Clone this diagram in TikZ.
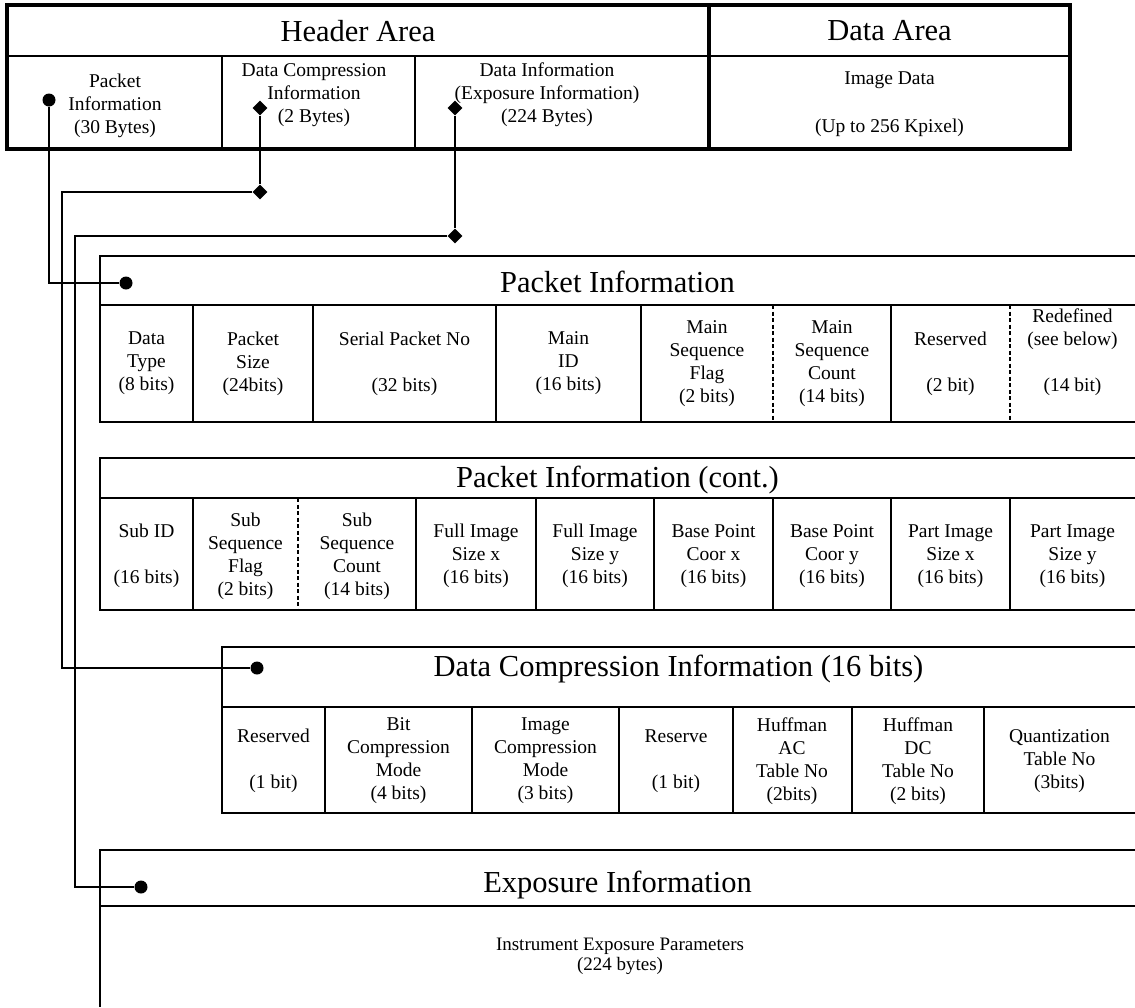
\documentclass[tikz,border=0pt]{standalone}
\usepackage{fontspec}
\setmainfont{Liberation Serif}
\usetikzlibrary{shapes.geometric}
\begin{document}
\begin{tikzpicture}[x=1pt,y=-1pt,
  thickrule/.style={line width=3.5pt},
  rule/.style={line width=2pt},
  dashrule/.style={line width=1.8pt, dash pattern=on 4pt off 2.5pt},
  wire/.style={line width=1.5pt},
  title/.style={font=\fontsize{30.5}{34}\selectfont, inner sep=0pt},
  cell/.style={font=\fontsize{19.5}{23}\selectfont, align=center, inner sep=0pt},
  body/.style={font=\fontsize{19}{20}\selectfont, align=center, inner sep=0pt},
  bigdot/.style={circle, fill=black, inner sep=0pt, minimum size=13pt},
  dia/.style={diamond, fill=black, inner sep=0pt, minimum size=15pt},
]
\useasboundingbox (0,0) rectangle (1135,1007);

% ---------- top table ----------
\draw[rule] (7,56) -- (1070,56);
\draw[rule] (222,56) -- (222,149);
\draw[rule] (415,56) -- (415,149);
\draw[thickrule] (7,5) rectangle (1070,149);
\draw[line width=4pt] (709,5) -- (709,149);

\node[title] (hdrA) at (358,31) {Header Area};
\node[title] (datA) at (889.5,31) {Data Area};
\node[cell] (hpi) at (115,106) {Packet\\Information\\(30 Bytes)};
\node[cell] (hdc) at (314,95) {Data Compression\\Information\\(2 Bytes)};
\node[cell] (hdi) at (547,95) {Data Information\\(Exposure Information)\\(224 Bytes)};
\node[cell] (himg) at (889.5,104) {Image Data\\[25pt](Up to 256 Kpixel)};

% ---------- Packet Information ----------
\draw[rule] (1135,256) -- (100,256) -- (100,422) -- (1135,422);
\draw[rule] (100,305) -- (1135,305);
\foreach \xx in {193,313,496,641,891} \draw[rule] (\xx,305) -- (\xx,422);
\foreach \xx in {773,1010} \draw[dashrule] (\xx,305) -- (\xx,422);
\node[title] (t1) at (617.5,282) {Packet Information};
\node[cell] (p1) at (146.5,363.5) {Data\\Type\\(8 bits)};
\node[cell] (p2) at (253,363.5) {Packet\\Size\\(24bits)};
\node[cell] (p3) at (404.5,363.5) {Serial Packet No\\[23pt](32 bits)};
\node[cell] (p4) at (568.5,363.5) {Main\\ID\\(16 bits)};
\node[cell] (p5) at (707,363.5) {Main\\Sequence\\Flag\\(2 bits)};
\node[cell] (p6) at (832,363.5) {Main\\Sequence\\Count\\(14 bits)};
\node[cell] (p7) at (950.5,363.5) {Reserved\\[23pt](2 bit)};
\node[cell] (p8) at (1072.5,352.5) {Redefined\\(see below)\\[23pt](14 bit)};

% ---------- Packet Information (cont.) ----------
\draw[rule] (1135,458) -- (100,458) -- (100,610) -- (1135,610);
\draw[rule] (100,498) -- (1135,498);
\foreach \xx in {193,416,536,654,773,891,1010} \draw[rule] (\xx,498) -- (\xx,610);
\draw[dashrule] (298,498) -- (298,610);
\node[title] (t2) at (617.5,480) {Packet Information (cont.)};
\node[cell] (q1) at (146.5,556) {Sub ID\\[23pt](16 bits)};
\node[cell] (q2) at (245.5,556) {Sub\\Sequence\\Flag\\(2 bits)};
\node[cell] (q3) at (357,556) {Sub\\Sequence\\Count\\(14 bits)};
\node[cell] (q4) at (476,556) {Full Image\\Size x\\(16 bits)};
\node[cell] (q5) at (595,556) {Full Image\\Size y\\(16 bits)};
\node[cell] (q6) at (713.5,556) {Base Point\\Coor x\\(16 bits)};
\node[cell] (q7) at (832,556) {Base Point\\Coor y\\(16 bits)};
\node[cell] (q8) at (950.5,556) {Part Image\\Size x\\(16 bits)};
\node[cell] (q9) at (1072.5,556) {Part Image\\Size y\\(16 bits)};

% ---------- Data Compression Information ----------
\draw[rule] (1135,647) -- (222,647) -- (222,813) -- (1135,813);
\draw[rule] (222,707) -- (1135,707);
\foreach \xx in {325,472,619,733,851.5,984} \draw[rule] (\xx,707) -- (\xx,813);
\node[title] (t3) at (678.5,669) {Data Compression Information (16 bits)};
\node[cell] (r1) at (273.5,761) {Reserved\\[23pt](1 bit)};
\node[cell] (r2) at (398.5,761) {Bit\\Compression\\Mode\\(4 bits)};
\node[cell] (r3) at (545.5,761) {Image\\Compression\\Mode\\(3 bits)};
\node[cell] (r4) at (676,761) {Reserve\\[23pt](1 bit)};
\node[cell] (r5) at (792,761) {Huffman\\AC\\Table No\\(2bits)};
\node[cell] (r6) at (918,761) {Huffman\\DC\\Table No\\(2 bits)};
\node[cell] (r7) at (1059.5,761) {Quantization\\Table No\\(3bits)};

% ---------- Exposure Information ----------
\draw[rule] (1135,850) -- (100,850) -- (100,1007);
\draw[rule] (100,906) -- (1135,906);
\node[title] (t4) at (617.5,885) {Exposure Information};
\node[body] (e1) at (620,956) {Instrument Exposure Parameters\\(224 bytes)};

% ---------- connectors ----------
\node[bigdot] (d1) at (49,100) {};
\node[dia] (k2) at (260,108) {};
\node[dia] (k3) at (455,108) {};
\node[dia] (k2b) at (260,192) {};
\node[dia] (k3b) at (455,236) {};
\node[bigdot] (d1b) at (126,283) {};
\node[bigdot] (d2b) at (257,668) {};
\node[bigdot] (d3b) at (141,887) {};
\coordinate (c2) at (62,192);
\coordinate (c3) at (75,236);
\draw[wire] (d1) |- (d1b);
\draw[wire] (k2) -- (k2b) -- (c2) |- (d2b);
\draw[wire] (k3) -- (k3b) -- (c3) |- (d3b);
\end{tikzpicture}
\end{document}
